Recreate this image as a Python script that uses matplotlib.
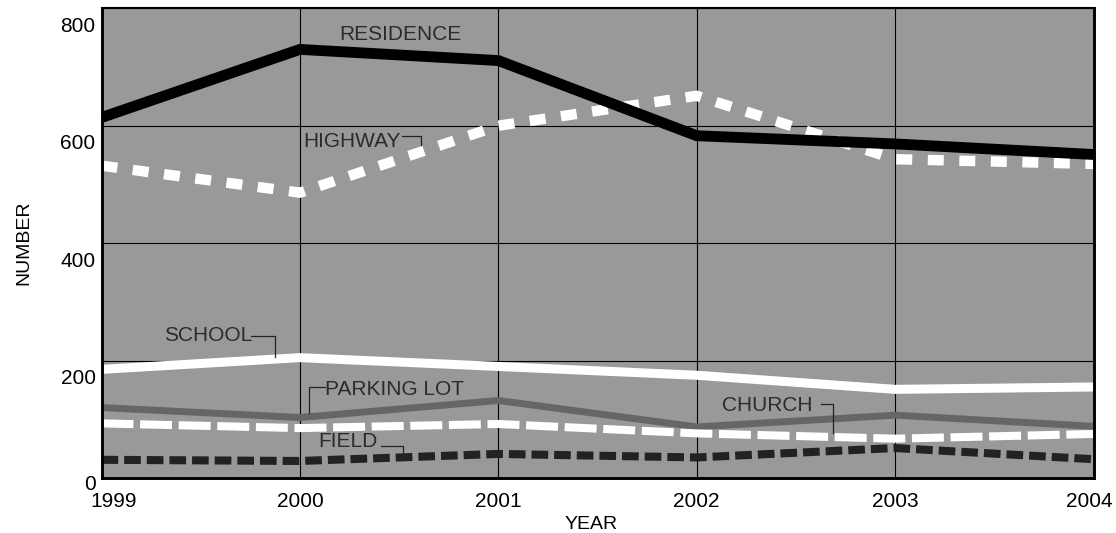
import matplotlib
matplotlib.use('Agg')
import matplotlib.pyplot as plt
from matplotlib.transforms import ScaledTranslation

# ---- data ----
years = [1999, 2000, 2001, 2002, 2003, 2004]
residence = [614, 730, 711, 583, 569, 551]
highway = [532, 486, 600, 651, 543, 535]
school = [185, 205, 190, 175, 151, 155]
parking_lot = [120, 103, 132, 87, 107, 88]
church = [93, 85, 92, 76, 67, 75]
field = [31, 29, 41, 35, 51, 32]
y_ticks = [0, 200, 400, 600, 800]
x_tick_labels = ['1999', '2000', '2001', '2002', '2003', '2004']
y_tick_labels = ['0', '200', '400', '600', '800']

plt.rcParams['font.family'] = ['Liberation Sans', 'DejaVu Sans']
plt.rcParams['lines.scale_dashes'] = False

W, H = 1116, 533
fig = plt.figure(figsize=(W / 100, H / 100), dpi=100)
left, right, top, bottom = 101.5, 1093.5, 8.3, 478.0
ax = fig.add_axes([left / W, 1 - bottom / H, (right - left) / W, (bottom - top) / H])
ax.set_facecolor('#999999')
ax.set_xlim(1999, 2004)
ax.set_ylim(0, 800)
ax.set_xticks(years)
ax.set_xticklabels(x_tick_labels)
ax.set_yticks(y_ticks)
ax.set_yticklabels(y_tick_labels)
ax.grid(True, color='black', lw=0.8)
ax.set_axisbelow(True)

# ---- series ----
ax.plot(years, field, color='#222222', lw=5.8, dashes=(12, 4.3), solid_capstyle='butt', dash_capstyle='butt')
ax.plot(years, parking_lot, color='#666666', lw=5.0, solid_capstyle='butt')
ax.plot(years, church, color='white', lw=5.8, dashes=(23, 4.8), dash_capstyle='butt')
ax.plot(years, school, color='white', lw=6.5, solid_capstyle='butt')
ax.plot(years, highway, color='white', lw=7.5, dashes=(11.5, 11.2), dash_capstyle='butt')
ax.plot(years, residence, color='black', lw=7.8, solid_capstyle='butt', solid_joinstyle='miter')

# ---- series labels with leader lines ----
tc = '#2b2b2b'
fs = 15
ax.text(2000.506, 755, 'RESIDENCE', color=tc, fontsize=fs, ha='center', va='center')
ax.text(2000.018, 573, 'HIGHWAY', color=tc, fontsize=fs, ha='left', va='center')
ax.plot([2000.516, 2000.612, 2000.612], [582, 582, 567], color='#222222', lw=0.9)
ax.text(1999.317, 243, 'SCHOOL', color=tc, fontsize=fs, ha='left', va='center')
ax.plot([1999.756, 1999.877, 1999.877], [242, 242, 206], color='#222222', lw=0.9)
ax.text(2000.128, 151, 'PARKING LOT', color=tc, fontsize=fs, ha='left', va='center')
ax.plot([2000.128, 2000.048, 2000.048], [155, 155, 111], color='#222222', lw=0.9)
ax.text(2000.093, 63, 'FIELD', color=tc, fontsize=fs, ha='left', va='center')
ax.plot([2000.411, 2000.521, 2000.521], [54, 54, 32], color='#222222', lw=0.9)
ax.text(2002.128, 124, 'CHURCH', color=tc, fontsize=fs, ha='left', va='center')
ax.plot([2002.627, 2002.688, 2002.688], [126, 126, 77], color='#222222', lw=0.9)

# ---- axes styling ----
for side in ['left', 'bottom', 'right']:
    ax.spines[side].set_linewidth(2.1)
ax.spines['top'].set_linewidth(1.5)
ax.tick_params(axis='both', length=0, labelsize=15, colors='black')
ax.tick_params(axis='y', pad=4.3)
ax.tick_params(axis='x', pad=10)

ax.set_xlabel('YEAR', fontsize=14)
ax.set_ylabel('NUMBER', fontsize=14)
ax.xaxis.set_label_coords(0.494, -0.081)
ax.yaxis.set_label_coords(-0.0696, 0.5)

# quirky label placement of the original
yshift_px = [-4, -16, -16, -16, -16]
for tick, s in zip(ax.yaxis.get_major_ticks(), yshift_px):
    tick.label1.set_transform(tick.label1.get_transform() + ScaledTranslation(0, s / 100, fig.dpi_scale_trans))
xshift_px = [12.5, 0, 0, 0, 0, -4]
for tick, s in zip(ax.xaxis.get_major_ticks(), xshift_px):
    tick.label1.set_transform(tick.label1.get_transform() + ScaledTranslation(s / 100, 0, fig.dpi_scale_trans))

fig.savefig('out.png', dpi=100)
